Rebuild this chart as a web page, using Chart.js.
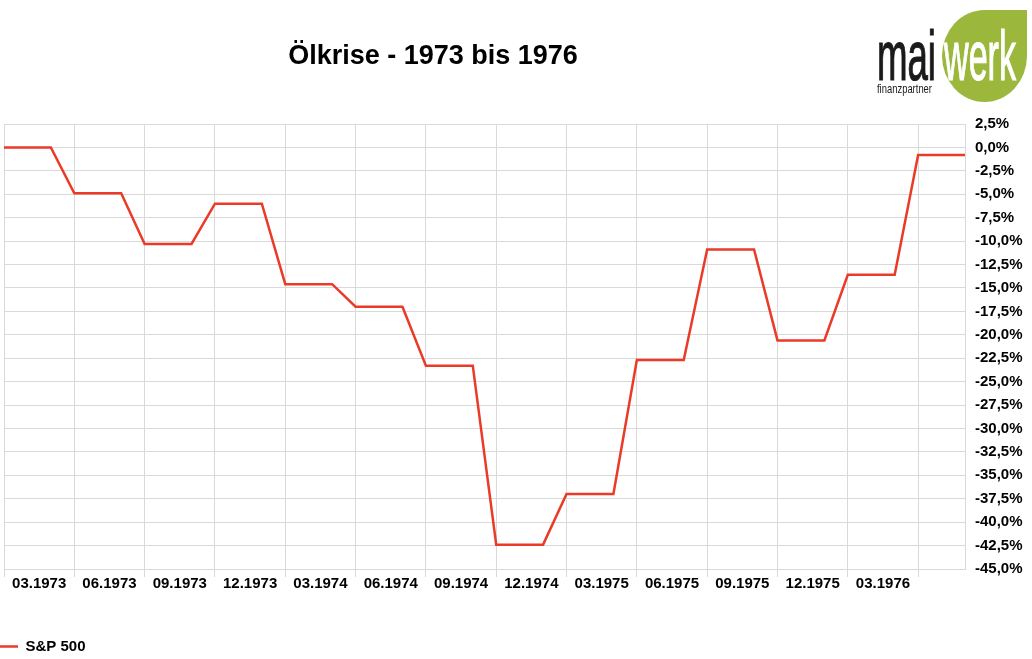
<!DOCTYPE html>
<html>
<head>
<meta charset="utf-8">
<script src="https://cdn.jsdelivr.net/npm/chart.js@4"></script>
<style>
  body { margin: 0; background: #fff; }
  #wrap { position: relative; width: 1032px; height: 659px; }
  #title {
    position: absolute; left: 0; top: 42px; width: 866px;
    text-align: center; font: bold 27px "Liberation Sans", Arial, sans-serif;
    line-height: 27px; color: #000;
  }
  #logo { position: absolute; left: 0; top: 0; }
  canvas { position: absolute; left: 0; top: 0; }
</style>
</head>
<body>
<div id="wrap">
  <canvas id="chart" width="1032" height="659"></canvas>
  <div id="title">Ölkrise - 1973 bis 1976</div>
  <svg id="logo" width="1032" height="110">
    <path d="M984.5,10 L1027,10 L1027,56 A42.5,46 0 1,1 984.5,10 Z" fill="#9cb83c"/>
    <text x="877" y="80" font-family="Liberation Sans, Arial" font-size="70" fill="#1a1a1a"
          stroke="#1a1a1a" stroke-width="1.2"
          textLength="59" lengthAdjust="spacingAndGlyphs">mai</text>
    <text x="944" y="80" font-family="Liberation Sans, Arial" font-size="70" fill="#fff"
          stroke="#fff" stroke-width="1.2"
          textLength="72" lengthAdjust="spacingAndGlyphs">werk</text>
    <text x="877" y="93" font-family="Liberation Sans, Arial" font-size="13" fill="#1a1a1a"
          textLength="55" lengthAdjust="spacingAndGlyphs">finanzpartner</text>
  </svg>
</div>
<script>
// Quartale (je 3 Monatswerte), Beschriftung in der Mitte jedes Quartals
const quarterLabels = ['03.1973', '06.1973', '09.1973', '12.1973', '03.1974', '06.1974', '09.1974',
  '12.1974', '03.1975', '06.1975', '09.1975', '12.1975', '03.1976'];

// S&P 500 Veraenderung in % (monatlich)
const sp500 = [
  0.0, 0.0, 0.0,
  -4.9, -4.9, -4.9,
  -10.3, -10.3, -10.3,
  -6.0, -6.0, -6.0,
  -14.6, -14.6, -14.6,
  -17.0, -17.0, -17.0,
  -23.3, -23.3, -23.3,
  -42.4, -42.4, -42.4,
  -37.0, -37.0, -37.0,
  -22.7, -22.7, -22.7,
  -10.9, -10.9, -10.9,
  -20.6, -20.6, -20.6,
  -13.6, -13.6, -13.6,
  -0.8, -0.8, -0.8
];

const gridColor = '#d9d9d9';
const boldFont = { family: '"Liberation Sans", Arial, sans-serif', size: 15, weight: 'bold' };

const ctx = document.getElementById('chart').getContext('2d');
const myChart = new Chart(ctx, {
  type: 'line',
  data: {
    datasets: [{
      label: 'S&P 500',
      data: sp500.map((v, i) => ({ x: i, y: v })),
      borderColor: '#ea3a28',
      backgroundColor: '#ea3a28',
      borderWidth: 2.5,
      pointRadius: 0,
      tension: 0,
      fill: false
    }]
  },
  options: {
    responsive: false,
    animation: false,
    layout: { padding: { left: 0, right: 0, top: 124, bottom: -5 } },
    plugins: {
      legend: {
        position: 'bottom',
        align: 'start',
        labels: {
          usePointStyle: true,
          pointStyle: 'line',
          pointStyleWidth: 18,
          padding: 0,
          color: '#000',
          font: boldFont
        }
      },
      tooltip: { enabled: false }
    },
    scales: {
      x: {
        type: 'linear',
        min: 0,
        max: sp500.length - 1,
        afterBuildTicks: (scale) => {
          const t = [];
          for (let i = 0; i <= sp500.length - 1; i += 1.5) t.push({ value: i });
          scale.ticks = t;
        },
        afterFit: (scale) => { scale.height = 70; scale.paddingLeft = 4; },
        grid: {
          color: (c) => (c.tick && c.tick.value % 3 === 0) ? gridColor : 'rgba(0,0,0,0)',
          tickLength: 8
        },
        border: { color: gridColor },
        ticks: {
          autoSkip: false,
          maxRotation: 0,
          padding: -2,
          color: '#000',
          font: boldFont,
          callback: (v) => {
            const q = (v - 1.5) / 3;
            return Number.isInteger(q) ? (quarterLabels[q] || '') : '';
          }
        }
      },
      y: {
        position: 'right',
        min: -45,
        max: 2.5,
        afterFit: (scale) => { scale.width = 67; },
        grid: { color: gridColor, drawTicks: false },
        border: { color: gridColor },
        ticks: {
          stepSize: 2.5,
          padding: 10,
          color: '#000',
          font: boldFont,
          callback: (v) => (Math.abs(v) < 1e-9 ? 0 : v).toFixed(1).replace('.', ',') + '%'
        }
      }
    }
  }
});
</script>
</body>
</html>
